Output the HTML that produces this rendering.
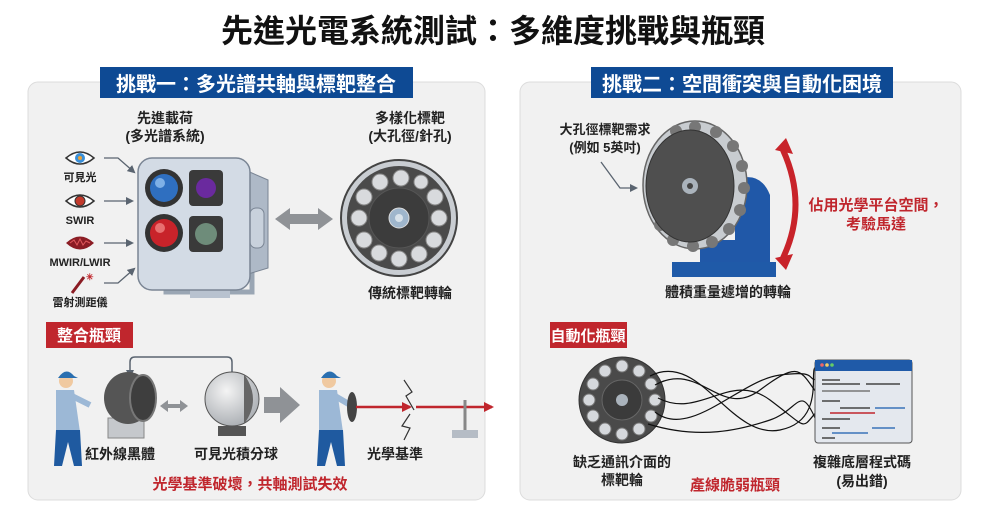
<!DOCTYPE html>
<html><head><meta charset="utf-8"><style>
html,body{margin:0;padding:0;background:#fff}
svg{display:block}
text{font-family:"Liberation Sans","Noto Sans CJK TC",sans-serif;font-weight:bold}
</style></head><body>
<svg width="986" height="514" viewBox="0 0 986 514" xmlns="http://www.w3.org/2000/svg">
<defs>
<marker id="ah" markerUnits="userSpaceOnUse" markerWidth="8" markerHeight="8" refX="6" refY="4" orient="auto"><path d="M0,0 L8,4 L0,8 z" fill="#5a6470"/></marker>
<marker id="ahr" markerUnits="userSpaceOnUse" markerWidth="10" markerHeight="10" refX="8" refY="5" orient="auto"><path d="M0,0 L10,5 L0,10 z" fill="#c0262d"/></marker>
<radialGradient id="sph" cx="0.4" cy="0.35" r="0.7"><stop offset="0" stop-color="#f4f4f4"/><stop offset="1" stop-color="#a9adb2"/></radialGradient>
</defs>
<text x="493" y="42" font-size="32" text-anchor="middle" fill="#111">先進光電系統測試：多維度挑戰與瓶頸</text>

<rect x="28" y="82" width="457" height="418" rx="10" fill="#f1f1f1" stroke="#dcdcdc"/>
<rect x="520" y="82" width="441" height="418" rx="10" fill="#f1f1f1" stroke="#dcdcdc"/>
<rect x="100" y="67" width="313" height="31" fill="#0e4a94"/>
<text x="256" y="91" font-size="20" text-anchor="middle" fill="#fff">挑戰一：多光譜共軸與標靶整合</text>
<rect x="591" y="67" width="302" height="31" fill="#0e4a94"/>
<text x="742" y="91" font-size="20" text-anchor="middle" fill="#fff">挑戰二：空間衝突與自動化困境</text>

<text x="165" y="123" font-size="14" text-anchor="middle" fill="#222">先進載荷</text>
<text x="165" y="141" font-size="14" text-anchor="middle" fill="#222">(多光譜系統)</text>
<text x="410" y="123" font-size="14" text-anchor="middle" fill="#222">多樣化標靶</text>
<text x="410" y="141" font-size="14" text-anchor="middle" fill="#222">(大孔徑/針孔)</text>

<path d="M66,158 Q80,146 94,158 Q80,170 66,158z" fill="#fff" stroke="#333" stroke-width="1.5"/><circle cx="80" cy="158" r="5" fill="#3a8fd8"/><circle cx="80" cy="158" r="2" fill="#e8a23a"/>
<text x="80" y="181" font-size="11" text-anchor="middle" fill="#222">可見光</text>
<path d="M66,201 Q80,189 94,201 Q80,213 66,201z" fill="#fff" stroke="#333" stroke-width="1.5"/><circle cx="80" cy="201" r="5" fill="#c23a2c" stroke="#333"/>
<text x="80" y="224" font-size="11" text-anchor="middle" fill="#222">SWIR</text>
<path d="M66,243 Q80,230 94,243 Q80,256 66,243z" fill="#8b1c24"/><path d="M70,243 l4,-3 3,5 3,-6 3,6 3,-4 4,2" stroke="#e0585c" fill="none"/>
<text x="80" y="266" font-size="11" text-anchor="middle" fill="#222">MWIR/LWIR</text>
<line x1="72" y1="293" x2="84" y2="277" stroke="#8b1c24" stroke-width="3"/><text x="86" y="280" font-size="9" fill="#c0262d">✳</text>
<text x="80" y="306" font-size="11" text-anchor="middle" fill="#222">雷射測距儀</text>
<g stroke="#5a6470" stroke-width="1.3" fill="none" marker-end="url(#ah)">
<path d="M104,158 L118,158 L134,172"/><line x1="104" y1="201" x2="132" y2="201"/><line x1="104" y1="243" x2="132" y2="243"/><path d="M104,283 L118,283 L134,269"/>
</g>

<path d="M166,270 L166,292 L252,292 L252,270" fill="none" stroke="#9aa6b4" stroke-width="5"/>
<rect x="190" y="290" width="40" height="8" fill="#b8c2cf"/>
<path d="M245,170 L268,180 L268,268 L245,275 z" fill="#aeb9c7" stroke="#7a8594"/>
<rect x="250" y="208" width="14" height="40" rx="6" fill="#c8d1dc" stroke="#7a8594"/>
<rect x="138" y="158" width="112" height="132" rx="14" fill="#d3dbe5" stroke="#7a8594" stroke-width="1.5"/>
<circle cx="164" cy="188" r="19" fill="#333"/><circle cx="164" cy="188" r="14" fill="#2f6fc0"/><circle cx="160" cy="183" r="5" fill="#7fb0e6"/>
<rect x="189" y="170" width="34" height="36" rx="4" fill="#3a3a3a"/><circle cx="206" cy="188" r="10" fill="#6a2a9e"/>
<circle cx="164" cy="233" r="19" fill="#333"/><circle cx="164" cy="233" r="14" fill="#c8232a"/><circle cx="160" cy="228" r="5" fill="#e87070"/>
<rect x="189" y="216" width="34" height="36" rx="4" fill="#3a3a3a"/><circle cx="206" cy="234" r="11" fill="#6e8c7a"/>

<path d="M275,219 L290,208 L290,214 L318,214 L318,208 L333,219 L318,230 L318,224 L290,224 L290,230 z" fill="#8f9296"/>

<circle cx="399" cy="218" r="58" fill="#c9cdd2" stroke="#444" stroke-width="2"/>
<circle cx="399" cy="218" r="52" fill="#4a4a4a"/>
<circle cx="399" cy="218" r="30" fill="#3c3c3c" stroke="#555"/>
<circle cx="399" cy="218" r="10" fill="#9fb6cc" stroke="#ddd"/><circle cx="399" cy="218" r="4" fill="#d8e2ea"/>
<g fill="#d8dadd" stroke="#888">
<circle cx="380" cy="182" r="8"/><circle cx="401" cy="178" r="8"/><circle cx="421" cy="182" r="7"/><circle cx="435" cy="197" r="8"/>
<circle cx="439" cy="218" r="8"/><circle cx="434" cy="240" r="8"/><circle cx="419" cy="254" r="8"/><circle cx="399" cy="259" r="8"/>
<circle cx="379" cy="253" r="8"/><circle cx="364" cy="240" r="8"/><circle cx="359" cy="218" r="8"/><circle cx="364" cy="197" r="8"/>
</g>
<text x="410" y="298" font-size="14" text-anchor="middle" fill="#222">傳統標靶轉輪</text>

<rect x="46" y="322" width="87" height="26" fill="#c0262d"/>
<text x="89" y="341" font-size="16" text-anchor="middle" fill="#fff">整合瓶頸</text>
<path d="M232,372 L232,362 Q232,357 227,357 L135,357 Q130,357 130,362 L130,376" fill="none" stroke="#5a6470" stroke-width="1.5" marker-end="url(#ah)"/>
<g>
<circle cx="66" cy="381" r="7" fill="#f0c9a0"/><path d="M58,378 Q66,366 74,376 L78,378 L58,378z" fill="#2a6fb0"/>
<path d="M56,390 L74,390 L80,432 L56,432 z" fill="#9cb8d6"/>
<path d="M72,396 L90,405" stroke="#9cb8d6" stroke-width="6"/>
<path d="M56,430 L80,430 L82,466 L74,466 L68,442 L62,466 L54,466 z" fill="#1f5aa0"/>
</g>
<rect x="108" y="418" width="36" height="20" fill="#c5c8cc" stroke="#888"/>
<ellipse cx="128" cy="398" rx="24" ry="26" fill="#555"/><ellipse cx="143" cy="398" rx="13" ry="23" fill="#3e3e3e" stroke="#777" stroke-width="2"/>
<path d="M160,406 L168,400 L168,404 L180,404 L180,400 L188,406 L180,412 L180,408 L168,408 L168,412z" fill="#8f9296"/>
<rect x="218" y="426" width="28" height="10" fill="#555"/>
<circle cx="232" cy="399" r="27" fill="url(#sph)" stroke="#555"/>
<path d="M244,374 Q262,400 244,424" fill="#666"/>
<path d="M264,397 L280,397 L280,387 L300,405 L280,423 L280,413 L264,413z" fill="#8f9296"/>
<g>
<circle cx="329" cy="381" r="7" fill="#f0c9a0"/><path d="M321,378 Q329,366 337,376 L341,378 L321,378z" fill="#2a6fb0"/>
<path d="M319,390 L337,390 L343,432 L319,432 z" fill="#9cb8d6"/>
<path d="M335,396 L352,406" stroke="#9cb8d6" stroke-width="6"/>
<path d="M319,430 L343,430 L345,466 L337,466 L331,442 L325,466 L317,466 z" fill="#1f5aa0"/>
</g>
<ellipse cx="352" cy="407" rx="5" ry="15" fill="#444"/>
<line x1="356" y1="407" x2="410" y2="407" stroke="#c0262d" stroke-width="2.5" marker-end="url(#ahr)"/>
<line x1="416" y1="407" x2="492" y2="407" stroke="#c0262d" stroke-width="2.5" marker-end="url(#ahr)"/>
<path d="M404,380 L412,392 L406,396 L414,410 M410,414 L402,426 L410,428 L404,440" stroke="#333" fill="none" stroke-width="1.2"/>
<rect x="452" y="430" width="26" height="8" fill="#b5bcc5"/><line x1="465" y1="430" x2="465" y2="400" stroke="#888" stroke-width="3"/>
<text x="120" y="459" font-size="14" text-anchor="middle" fill="#222">紅外線黑體</text>
<text x="236" y="459" font-size="14" text-anchor="middle" fill="#222">可見光積分球</text>
<text x="395" y="459" font-size="14" text-anchor="middle" fill="#222">光學基準</text>
<text x="250" y="489" font-size="15" text-anchor="middle" fill="#c0262d">光學基準破壞，共軸測試失效</text>

<text x="605" y="134" font-size="13" text-anchor="middle" fill="#222">大孔徑標靶需求</text>
<text x="605" y="152" font-size="13" text-anchor="middle" fill="#222">(例如 5英吋)</text>
<path d="M601,162 L620,188 L636,188" fill="none" stroke="#5a6470" stroke-width="1.3" marker-end="url(#ah)"/>
<rect x="672" y="262" width="104" height="15" fill="#1f5aa8"/>
<path d="M735,180 Q760,170 770,195 L770,262 L700,262 L700,240 L735,240z" fill="#2058a8"/>
<ellipse cx="695" cy="185" rx="52" ry="64" fill="#c8ccd0" stroke="#666" stroke-width="1.5"/>
<g fill="#777">
<circle cx="695" cy="127" r="6"/><circle cx="716" cy="132" r="6"/><circle cx="733" cy="146" r="6"/><circle cx="742" cy="166" r="6"/><circle cx="744" cy="188" r="6"/><circle cx="740" cy="210" r="6"/><circle cx="729" cy="229" r="6"/><circle cx="712" cy="242" r="6"/><circle cx="693" cy="246" r="6"/><circle cx="673" cy="240" r="6"/><circle cx="660" cy="225" r="6"/><circle cx="676" cy="131" r="6"/>
</g>
<ellipse cx="690" cy="186" rx="44" ry="56" fill="#4f4f4f" stroke="#333"/>
<circle cx="690" cy="186" r="8" fill="#aab3bc"/><circle cx="690" cy="186" r="3" fill="#444"/>
<path d="M783,150 Q808,205 783,258" fill="none" stroke="#c8232a" stroke-width="6"/>
<path d="M775,150 L786,138 L793,154z M775,258 L786,270 L793,254z" fill="#c8232a"/>
<text x="876" y="210" font-size="15" text-anchor="middle" fill="#c0262d">佔用光學平台空間，</text>
<text x="876" y="229" font-size="15" text-anchor="middle" fill="#c0262d">考驗馬達</text>
<text x="728" y="297" font-size="14" text-anchor="middle" fill="#222">體積重量遽增的轉輪</text>

<rect x="550" y="322" width="77" height="26" fill="#c0262d"/>
<text x="588" y="341" font-size="15" text-anchor="middle" fill="#fff">自動化瓶頸</text>
<circle cx="622" cy="400" r="43" fill="#4a4a4a" stroke="#333"/>
<circle cx="622" cy="400" r="20" fill="#3b3b3b" stroke="#666"/><circle cx="622" cy="400" r="6" fill="#aab3bc"/>
<g fill="#d5d8dc" stroke="#777">
<circle cx="622" cy="366" r="6"/><circle cx="639" cy="371" r="6"/><circle cx="651" cy="384" r="6"/><circle cx="655" cy="400" r="6"/><circle cx="651" cy="416" r="6"/><circle cx="639" cy="429" r="6"/><circle cx="622" cy="434" r="6"/><circle cx="605" cy="429" r="6"/><circle cx="593" cy="416" r="6"/><circle cx="589" cy="400" r="6"/><circle cx="593" cy="384" r="6"/><circle cx="605" cy="371" r="6"/>
</g>
<g stroke="#111" stroke-width="1.2" fill="none">
<path d="M655,385 C700,360 720,420 760,390 S800,370 818,395"/>
<path d="M658,398 C700,420 730,370 770,400 S800,430 818,410"/>
<path d="M655,412 C690,440 740,380 780,375 S805,380 818,380"/>
<path d="M648,424 C700,440 740,430 770,420 S800,380 818,425"/>
<path d="M650,376 C700,350 730,440 780,430 S805,360 818,368"/>
</g>
<rect x="815" y="360" width="97" height="83" rx="3" fill="#e4e8ee" stroke="#555"/>
<rect x="815" y="360" width="97" height="11" fill="#1f5aa8"/>
<circle cx="822" cy="365" r="1.8" fill="#e66"/><circle cx="827" cy="365" r="1.8" fill="#ec6"/><circle cx="832" cy="365" r="1.8" fill="#6c6"/>
<g stroke-width="1.5">
<line x1="822" y1="380" x2="840" y2="380" stroke="#444"/><line x1="822" y1="384" x2="860" y2="384" stroke="#444"/><line x1="866" y1="384" x2="900" y2="384" stroke="#444"/>
<line x1="822" y1="391" x2="870" y2="391" stroke="#777"/><line x1="822" y1="401" x2="840" y2="401" stroke="#444"/>
<line x1="840" y1="408" x2="870" y2="408" stroke="#444"/><line x1="875" y1="408" x2="905" y2="408" stroke="#3a73b8"/>
<line x1="830" y1="413" x2="875" y2="413" stroke="#c0262d"/><line x1="822" y1="419" x2="850" y2="419" stroke="#444"/>
<line x1="822" y1="428" x2="840" y2="428" stroke="#444"/><line x1="832" y1="433" x2="868" y2="433" stroke="#3a73b8"/><line x1="872" y1="428" x2="895" y2="428" stroke="#3a73b8"/>
<line x1="822" y1="438" x2="835" y2="438" stroke="#444"/>
</g>
<text x="622" y="467" font-size="14" text-anchor="middle" fill="#222">缺乏通訊介面的</text>
<text x="622" y="485" font-size="14" text-anchor="middle" fill="#222">標靶輪</text>
<text x="735" y="490" font-size="15" text-anchor="middle" fill="#c0262d">產線脆弱瓶頸</text>
<text x="862" y="467" font-size="14" text-anchor="middle" fill="#222">複雜底層程式碼</text>
<text x="862" y="486" font-size="14" text-anchor="middle" fill="#222">(易出錯)</text>
</svg>
</body></html>
